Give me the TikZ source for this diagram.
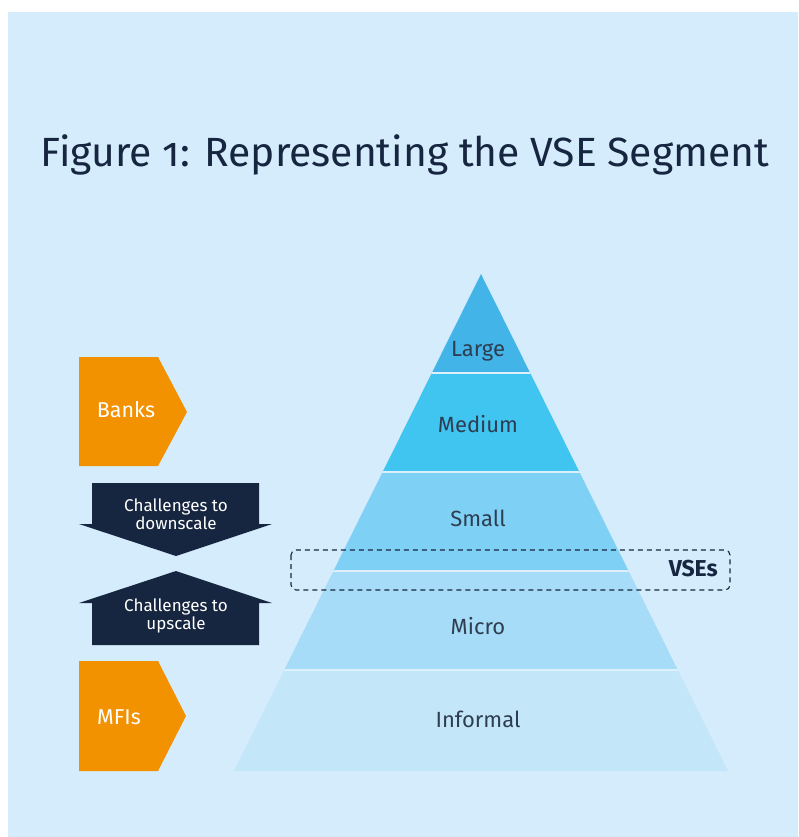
\documentclass[tikz,border=0pt]{standalone}
\usepackage{fontspec}
\setmainfont{Fira Sans}[Numbers=OldStyle]
\usetikzlibrary{calc}
\definecolor{bgblue}{HTML}{D4ECFB}
\definecolor{navy}{HTML}{172640}
\definecolor{orng}{HTML}{F39200}
\definecolor{tierA}{HTML}{42B4E8}
\definecolor{tierB}{HTML}{40C4F0}
\definecolor{tierC}{HTML}{7FD0F5}
\definecolor{tierD}{HTML}{A6DCF7}
\definecolor{tierE}{HTML}{C4E6F9}
\definecolor{labelc}{HTML}{2E3D50}
\definecolor{gapc}{HTML}{DDF1FC}
\begin{document}
\begin{tikzpicture}[x=1pt,y=-1pt,
  tierlabel/.style={text=labelc,font=\fontsize{22}{26}\selectfont,inner sep=0pt},
  chevlabel/.style={text=white,font=\fontsize{21.5}{25}\selectfont,inner sep=0pt},
  arrlabel/.style={text=white,font=\fontsize{17}{20}\selectfont,align=center,inner sep=0pt},
  chev/.style={fill=orng},
  bigarrow/.style={fill=navy}]
\useasboundingbox (0,0) rectangle (798,837);
\fill[white] (0,0) rectangle (798,837);
\fill[bgblue] (8,12) rectangle (798,837);
% title
\node[text=navy,font=\fontsize{40.8}{48}\selectfont,inner sep=0pt] (title) at (405,155) {Figure 1: Representing the VSE Segment};
% pyramid
\begin{scope}
\clip (481,274) -- (728,771) -- (234,771) -- cycle;
\fill[tierA] (200,270) rectangle (760,373);
\fill[tierB] (200,373) rectangle (760,472);
\fill[tierC] (200,472) rectangle (760,571);
\fill[tierD] (200,571) rectangle (760,670);
\fill[tierE] (200,670) rectangle (760,775);
\foreach \yy in {373,472,571,670}{\draw[gapc,line width=2pt] (200,\yy) -- (760,\yy);}
\end{scope}
\node[tierlabel] (large) at (478,351) {Large};
\node[tierlabel] (medium) at (478,424) {Medium};
\node[tierlabel] (small) at (478,518) {Small};
\node[tierlabel] (micro) at (478,626) {Micro};
\node[tierlabel] (informal) at (478,719) {Informal};
% VSE dashed box
\draw[navy,dashed,line width=1.1pt,dash pattern=on 5pt off 4pt,rounded corners=5pt] (291,550) rectangle (730,590);
\node[text=navy,font=\fontsize{23}{27}\selectfont\bfseries,inner sep=0pt,anchor=east] (vse) at (718,569) {VSEs};
% chevrons
\fill[chev] (79,357) -- (158,357) -- (187,412) -- (158,466) -- (79,466) -- cycle;
\node[chevlabel] (banks) at (126,410) {Banks};
\fill[chev] (79,661) -- (158,661) -- (186,716) -- (158,771) -- (79,771) -- cycle;
\node[chevlabel] (mfis) at (119,717) {MFIs};
% arrows
\fill[bigarrow] (92,483) -- (259,483) -- (259,524) -- (272,524) -- (176,556) -- (79,524) -- (92,524) -- cycle;
\node[arrlabel] (down) at (176,514) {Challenges to\\[-2pt]downscale};
\fill[bigarrow] (176,571) -- (272,603) -- (259,603) -- (259,645) -- (92,645) -- (92,603) -- (79,603) -- cycle;
\node[arrlabel] (up) at (176,616) {Challenges to\\[-2pt]upscale};
\end{tikzpicture}
\end{document}
